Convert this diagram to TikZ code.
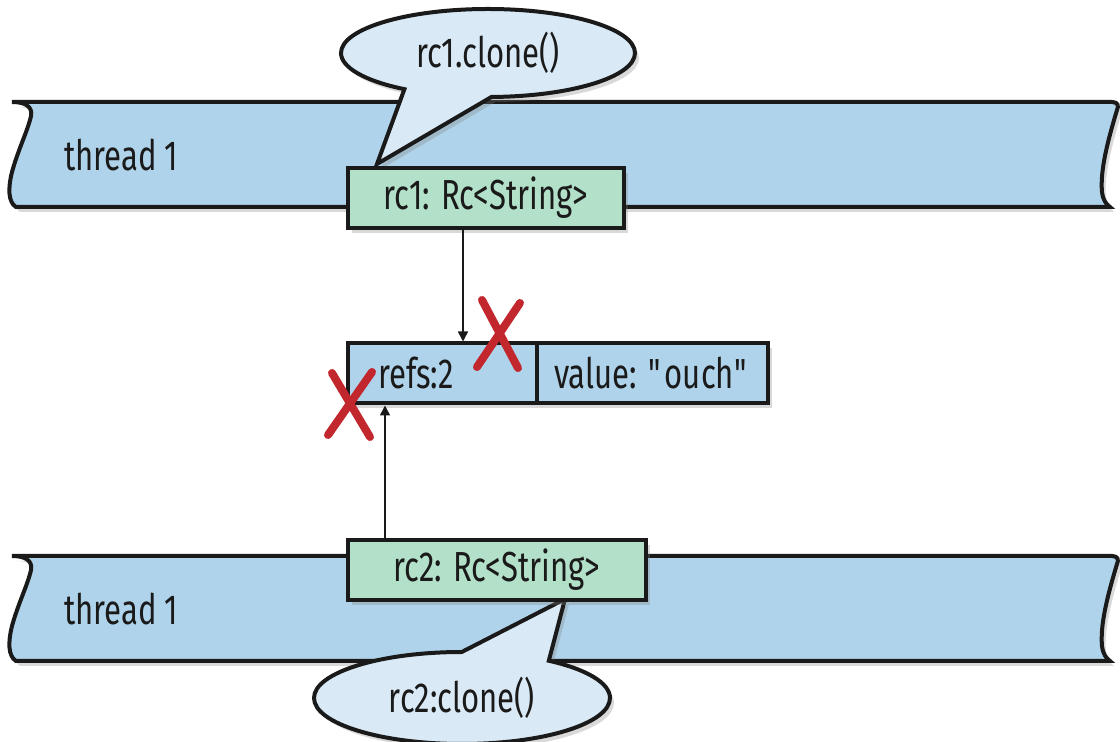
\documentclass[tikz,border=0pt]{standalone}
\usepackage{fontspec}
\setmainfont{Fira Sans}[FakeStretch=0.74]
\usetikzlibrary{arrows.meta,positioning,shapes.callouts,shadows}
\definecolor{lanefill}{HTML}{AFD3EA}
\definecolor{rcfill}{HTML}{B3E0C8}
\definecolor{bubblefill}{HTML}{D9EAF6}
\definecolor{crossred}{HTML}{C1272D}
\definecolor{ink}{HTML}{1A1A1A}

\begin{document}
\begin{tikzpicture}[x=0.5pt,y=-0.5pt,
  txt/.style={font=\fontsize{21}{24}\selectfont,text=ink},
  shade/.style={drop shadow={shadow xshift=2pt,shadow yshift=-2.5pt,opacity=0.3}},
  lane/.style={draw=ink,line width=2pt,fill=lanefill,shade},
  rcbox/.style={txt,draw=ink,line width=2pt,fill=rcfill,minimum height=30pt,inner sep=0pt,shade},
  cell/.style={txt,draw=ink,line width=2pt,fill=lanefill,minimum height=30pt,inner sep=0pt,shade},
  bubble/.style={txt,ellipse callout,draw=ink,line width=2pt,fill=bubblefill,inner sep=0pt,callout pointer arc=36,shade},
  ptr/.style={ink,line width=0.8pt,-{Triangle[length=5pt,width=5pt]}},
  cross/.style={crossred,line width=4pt,line cap=round}]
  \useasboundingbox (0,0) rectangle (1120,742);

  % the two thread lanes
  \foreach \dy/\lbl in {0/thr1,454/thr2}{
    \path[lane,shift={(0,\dy)}] (12,102) -- (1112,102)
      .. controls (1118,102) and (1119,106) .. (1117,110)
      .. controls (1108,140) and (1100,170) .. (1102,192)
      .. controls (1103,200) and (1106,204) .. (1110,207)
      -- (16,207)
      .. controls (8,202) and (8,188) .. (12,172)
      .. controls (18,150) and (28,130) .. (31,116)
      .. controls (33,106) and (24,102) .. (12,102) -- cycle;
    \node[txt,anchor=west] (\lbl) at (57,155+\dy) {thread 1};
  }

  % callouts
  \coordinate (tip1) at (377,164);
  \node[bubble,minimum width=147pt,minimum height=44pt,callout absolute pointer=(tip1)] (call1) at (488,53) {rc1.clone()};
  \coordinate (tip2) at (565,599);
  \node[bubble,minimum width=148pt,minimum height=46pt,callout absolute pointer=(tip2)] (call2) at (462,698) {rc2:clone()};

  % Rc handles
  \node[rcbox,minimum width=138pt] (rc1) at (486,198) {rc1: Rc<String>};
  \node[rcbox,minimum width=149pt] (rc2) at (497,570) {rc2: Rc<String>};

  % shared allocation
  \node[cell,minimum width=94.5pt,text width=64.5pt,inner xsep=15pt,align=left] (refs) at (442.5,373.5) {refs:2};
  \node[cell,minimum width=115.5pt,right=-2pt of refs] (value) {value: \textquotedbl ouch\textquotedbl};

  \draw[ptr] ([xshift=-11.5pt]rc1.south) -- ([xshift=-11.5pt]rc1.south |- refs.north);
  \draw[ptr] ([xshift=19.5pt]rc2.north -| refs.south west) -- ([xshift=19.5pt]refs.south west);

  % red crosses
  \draw[cross] (477,367) -- (520,303);
  \draw[cross] (482,300) -- (518,368);
  \draw[cross] (328,435) -- (372,372);
  \draw[cross] (332,373) -- (370,437);
\end{tikzpicture}
\end{document}
